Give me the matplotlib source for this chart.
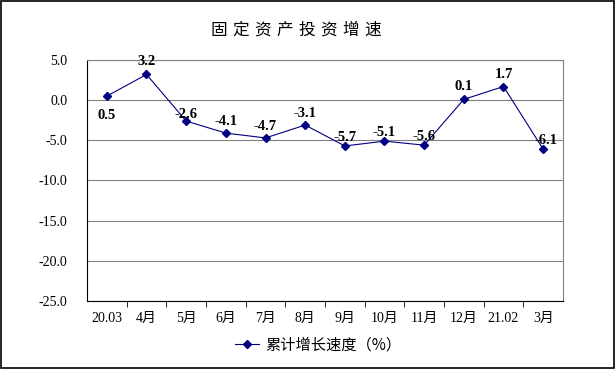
import matplotlib.pyplot as plt
from matplotlib.patches import Rectangle

plt.rcParams['font.family'] = ['Liberation Serif', 'Noto Sans CJK SC']

# =========================
# Data
# =========================
months = ['20.03', '4月', '5月', '6月', '7月', '8月', '9月', '10月', '11月', '12月', '21.02', '3月']
growth = [0.5, 3.2, -2.6, -4.1, -4.7, -3.1, -5.7, -5.1, -5.6, 0.1, 1.7, -6.1]
label_offsets = [(0, -14), (0, 9), (0, 5), (0, 8), (0, 8), (0, 8), (0, 6), (0, 6), (0, 6), (0, 9), (0, 9), (2, 6)]
title = '固定资产投资增速'

fig = plt.figure(figsize=(6.15, 3.69), dpi=100)
ax = fig.add_axes([87 / 615, 1 - 301 / 369, 476 / 615, 241 / 369])

x = list(range(len(months)))
ax.plot(x, growth, color='#000080', lw=0.8, marker='D', markersize=4,
        label='累计增长速度（%）')

for xi, v, off in zip(x, growth, label_offsets):
    ax.annotate(f'{v:.1f}', (xi, v), xytext=off, textcoords='offset points',
                ha='center', va='center', fontsize=10.5, fontweight='bold')

ax.set_xlim(-0.5, len(months) - 0.5)
ax.set_ylim(-25, 5)
ax.set_yticks(range(-25, 6, 5))
ax.set_yticklabels([f'{t:.1f}' for t in range(-25, 6, 5)], fontsize=10)
ax.set_xticks(x)
ax.set_xticklabels(months, fontsize=10)
ax.tick_params(axis='x', length=0, pad=8)
ax.set_xticks([i + 0.5 for i in x[:-1]], minor=True)
ax.tick_params(axis='x', which='minor', length=4, direction='out', color='black')
ax.tick_params(axis='y', length=0, pad=14)
ax.yaxis.grid(True, color='#808080', lw=0.8)
ax.set_axisbelow(True)

ax.spines['left'].set_color('black')
ax.spines['bottom'].set_color('black')
ax.spines['top'].set_color('#808080')
ax.spines['right'].set_color('#808080')

# title, letter-spaced
for i, ch in enumerate(title):
    fig.text((219 + 22 * i) / 615, 1 - 30 / 369, ch, ha='center', va='center',
             fontsize=12, family=['Noto Sans CJK SC'])

fig.legend(loc='center', bbox_to_anchor=(318 / 615, 1 - 345 / 369), frameon=False,
           handlelength=1.6, handletextpad=0.4,
           prop={'family': ['Noto Sans CJK SC'], 'size': 11})

fig.patches.append(Rectangle((0.001, 0.002), 0.997, 0.996, transform=fig.transFigure,
                             fill=False, edgecolor='black', lw=1.2))

plt.savefig('out.png', dpi=100)
